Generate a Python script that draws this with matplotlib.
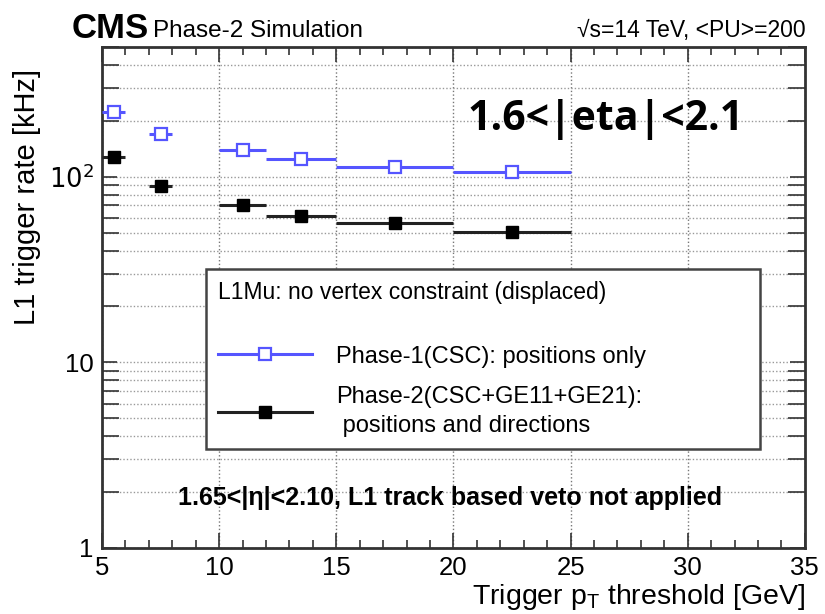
import numpy as np
import matplotlib.pyplot as plt
from matplotlib.lines import Line2D
from matplotlib.ticker import FixedLocator, FixedFormatter, MultipleLocator, LogLocator, NullFormatter

plt.rcParams['font.family'] = ['Liberation Sans', 'DejaVu Sans']

# trigger pT thresholds (bin centre and bin edges)
pt_center = [5.5, 7.5, 11.0, 13.5, 17.5, 22.5]
pt_low = [5.0, 7.0, 10.0, 12.0, 15.0, 20.0]
pt_high = [6.0, 8.0, 12.0, 15.0, 20.0, 25.0]

# L1 rates [kHz]
rate_phase1 = [223, 170, 140, 125, 113, 106]
rate_phase2 = [127, 89.5, 70.6, 61.7, 56.6, 50.6]

blue = '#5555ff'

fig = plt.figure(figsize=(8.25, 6.14), dpi=100)
ax = fig.add_axes([0.1236, 0.1075, 0.852, 0.816])

xc = np.array(pt_center)
xerr = [xc - np.array(pt_low), np.array(pt_high) - xc]

ax.errorbar(xc, rate_phase1, xerr=xerr, fmt='s', color=blue, mfc='white', mec=blue,
            ms=9, mew=1.6, elinewidth=2.2, capsize=0, zorder=4)
ax.errorbar(xc, rate_phase2, xerr=xerr, fmt='s', color='#222222', mfc='black', mec='black',
            ms=9, mew=1.0, elinewidth=2.2, capsize=0, zorder=4)

ax.set_yscale('log')
ax.set_xlim(5, 35)
ax.set_ylim(1, 500)

ax.xaxis.set_major_locator(MultipleLocator(5))
ax.xaxis.set_minor_locator(MultipleLocator(1))
ax.yaxis.set_major_locator(FixedLocator([1, 10, 100]))
ax.yaxis.set_major_formatter(FixedFormatter(['1', '10', r'$10^2$']))
ax.yaxis.set_minor_locator(LogLocator(base=10, subs=np.arange(2, 10)))
ax.yaxis.set_minor_formatter(NullFormatter())

ax.tick_params(which='both', direction='in', top=True, right=True, width=1.2, color='#333333')
ax.tick_params(which='major', length=11, labelsize=18.5, pad=6)
ax.tick_params(which='minor', length=6)
ax.tick_params(axis='y', which='minor', length=12)

ax.grid(True, which='major', axis='x', ls=':', color='#777777', lw=1.0)
ax.grid(True, which='both', axis='y', ls=(0, (1, 1.5)), color='#999999', lw=1.0)
for s in ax.spines.values():
    s.set_linewidth(2)
    s.set_color('#333333')

ax.set_xlabel(r'Trigger p$_\mathregular{T}$ threshold [GeV]', fontsize=20.5, loc='right', labelpad=1)
ax.set_ylabel('L1 trigger rate [kHz]', fontsize=21, labelpad=6)
ax.yaxis.label.set_y(0.70)

# header
fig.text(0.087, 0.953, 'CMS', fontsize=25, fontweight='bold', va='center')
fig.text(0.185, 0.950, 'Phase-2 Simulation', fontsize=17.5, va='center')
fig.text(0.976, 0.950, '√s=14 TeV, <PU>=200', fontsize=16.5, va='center', ha='right')

ax.text(0.52, 0.855, '1.6<|eta|<2.1', transform=ax.transAxes, fontsize=29.5,
        fontweight='bold', family=['Open Sans', 'DejaVu Sans'], va='center')
ax.text(0.495, 0.1, '1.65<|η|<2.10, L1 track based veto not applied', transform=ax.transAxes,
        fontsize=18, fontweight='bold', ha='center', va='center')

handles = [
    Line2D([], [], color=blue, lw=2.2, marker='s', ms=9, mfc='white', mec=blue, mew=1.6),
    Line2D([], [], color='#222222', lw=2.2, marker='s', ms=9, mfc='black', mec='black'),
]
labels = ['Phase-1(CSC): positions only', 'Phase-2(CSC+GE11+GE21):\n positions and directions']
leg = ax.legend(handles, labels, title='L1Mu: no vertex constraint (displaced)',
                bbox_to_anchor=(0.148, 0.2096, 0.788, 0.347), loc='upper left', mode='expand',
                fontsize=17, title_fontsize=16.5, alignment='left', frameon=True, fancybox=False,
                edgecolor='#444444', framealpha=1, handlelength=4.0, handletextpad=1.0,
                labelspacing=0.8, borderpad=0.5, borderaxespad=0)
leg.get_frame().set_linewidth(1.8)
leg._legend_box.sep = 30
for t in leg.get_texts():
    t.set_linespacing(1.4)

fig.savefig('out.png', dpi=100)
